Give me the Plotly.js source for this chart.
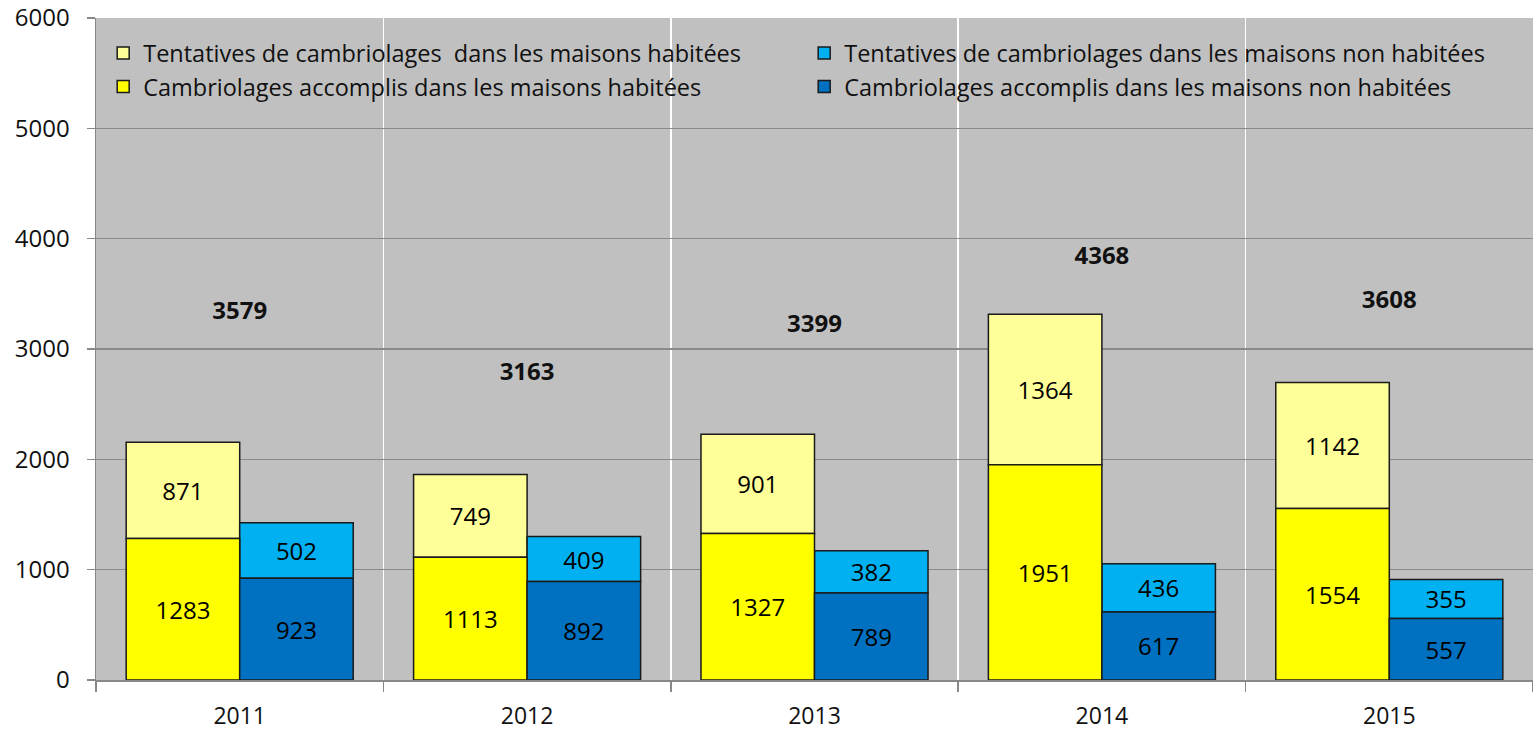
<!DOCTYPE html>
<html>
<head>
<meta charset="utf-8">
<script src="https://cdn.plot.ly/plotly-3.0.1.min.js"></script>
<style>html,body{margin:0;padding:0;background:#fff;}#chart{width:1533px;height:731px;}</style>
</head>
<body>
<div id="chart"></div>
<script>
const years = ["2011", "2012", "2013", "2014", "2015"];
const accomplisHabitees = [1283, 1113, 1327, 1951, 1554];
const tentativesHabitees = [871, 749, 901, 1364, 1142];
const accomplisNonHabitees = [923, 892, 789, 617, 557];
const tentativesNonHabitees = [502, 409, 382, 436, 355];
const totals = [3579, 3163, 3399, 4368, 3608];
const totalLabelHeights = [3327, 2774, 3209, 3826, 3427];

const FONT = "'Open Sans', sans-serif";
const lineStyle = {color: "#1a1a1a", width: 1.5};
const txtFont = {family: FONT, size: 24, color: "#000"};

function barTrace(name, vals, base, color, group, rank) {
  return {
    type: "bar", name: name, x: years, y: vals, base: base,
    offsetgroup: group, legendrank: rank,
    marker: {color: color, line: lineStyle},
    text: vals.map(String), textposition: "inside", insidetextanchor: "middle",
    textangle: 0, textfont: txtFont, hoverinfo: "name+y"
  };
}

const traces = [
  barTrace("Tentatives de cambriolages  dans les maisons habitées", tentativesHabitees, accomplisHabitees, "#FFFF99", "h", 1),
  barTrace("Tentatives de cambriolages dans les maisons non habitées", tentativesNonHabitees, accomplisNonHabitees, "#00B0F0", "n", 2),
  barTrace("Cambriolages accomplis dans les maisons habitées", accomplisHabitees, null, "#FFFF00", "h", 3),
  barTrace("Cambriolages accomplis dans les maisons non habitées", accomplisNonHabitees, null, "#0070C0", "n", 4),
  {
    type: "scatter", mode: "text", x: years, y: totalLabelHeights,
    text: totals.map(String), textposition: "middle center",
    textfont: {family: FONT, size: 24, color: "#111", weight: "bold"},
    showlegend: false, hoverinfo: "skip", cliponaxis: false
  }
];

const layout = {
  width: 1533, height: 731,
  margin: {l: 96, r: 0, t: 18, b: 51},
  paper_bgcolor: "#ffffff", plot_bgcolor: "#C0C0C0",
  font: {family: FONT, size: 24, color: "#111"},
  barmode: "group", bargap: 0.21, bargroupgap: 0,
  showlegend: true,
  legend: {
    orientation: "h", x: 0.005, y: 0.98, xanchor: "left", yanchor: "top",
    entrywidth: 656, entrywidthmode: "pixels",
    bgcolor: "rgba(0,0,0,0)", font: {family: FONT, size: 23.5, color: "#111"},
    traceorder: "normal"
  },
  xaxis: {
    type: "category", tickson: "boundaries",
    showgrid: true, gridcolor: "#ffffff", gridwidth: 1.5,
    ticks: "outside", ticklen: 10, tickcolor: "#888", tickwidth: 1.5,
    showline: true, linecolor: "#888", linewidth: 1.5,
    tickfont: {family: FONT, size: 23, color: "#111"},
    ticklabelstandoff: 15, fixedrange: true
  },
  yaxis: {
    range: [0, 6000], dtick: 1000, tick0: 0,
    showgrid: true, gridcolor: "#8a8a8a", gridwidth: 1.5,
    ticks: "outside", ticklen: 8, tickcolor: "#888", tickwidth: 1.5,
    showline: true, linecolor: "#888", linewidth: 1.5,
    zeroline: false,
    tickfont: {family: FONT, size: 24, color: "#111"},
    ticklabelstandoff: 12, fixedrange: true
  }
};

Plotly.newPlot("chart", traces, layout, {displayModeBar: false, staticPlot: true});
</script>
</body>
</html>
